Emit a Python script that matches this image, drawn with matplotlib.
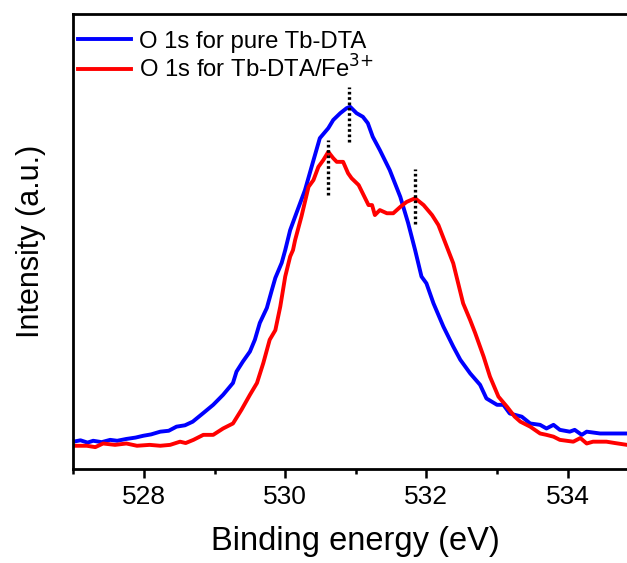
import matplotlib
matplotlib.use("Agg")
import matplotlib.pyplot as plt
from matplotlib.ticker import MultipleLocator

plt.rcParams['font.family'] = ['Liberation Sans', 'DejaVu Sans']

# Binding energy (eV) and intensity (a.u.)
energy_pure = [527.00, 527.10, 527.20, 527.28, 527.40, 527.52, 527.62, 527.75, 527.88, 527.99,
               528.10, 528.23, 528.35, 528.46, 528.58, 528.69, 528.84, 528.98,
               529.12, 529.26, 529.31, 529.40, 529.50, 529.57, 529.64, 529.74, 529.81, 529.86,
               529.95, 530.00, 530.07, 530.16, 530.28, 530.39, 530.49, 530.61, 530.68, 530.78,
               530.87, 530.92, 531.01, 531.10, 531.17, 531.24, 531.34, 531.48, 531.63, 531.74,
               531.84, 531.93, 532.00, 532.10, 532.24, 532.38, 532.48, 532.62, 532.76, 532.85,
               533.00, 533.09, 533.18, 533.35, 533.47, 533.61, 533.70, 533.80, 533.89, 534.03,
               534.10, 534.20, 534.27, 534.46, 534.84, 535.00]
intensity_pure = [6.0, 6.3, 5.8, 6.2, 5.9, 6.4, 6.2, 6.6, 6.9, 7.3,
                  7.6, 8.2, 8.4, 9.3, 9.6, 10.4, 12.3, 14.1,
                  16.3, 18.9, 21.4, 23.6, 25.8, 28.4, 32.1, 35.4, 39.3, 42.0,
                  45.3, 48.1, 52.5, 56.3, 61.3, 67.3, 72.7, 74.9, 76.7, 78.2,
                  79.3, 79.6, 78.2, 77.4, 76.0, 73.0, 70.1, 65.7, 59.8, 54.1,
                  48.1, 42.3, 40.8, 36.4, 31.3, 26.9, 24.0, 21.0, 18.5, 15.5,
                  14.1, 14.1, 12.2, 11.5, 10.0, 9.7, 8.9, 9.7, 8.6, 8.2,
                  8.6, 7.5, 8.2, 7.8, 7.8, 7.8]

energy_fe = [527.00, 527.19, 527.31, 527.42, 527.59, 527.75, 527.90, 528.08, 528.23, 528.37,
             528.51, 528.59, 528.70, 528.84, 528.98, 529.12, 529.26, 529.38, 529.50, 529.60,
             529.69, 529.78, 529.86, 529.93, 530.00, 530.07, 530.11, 530.14, 530.23, 530.33,
             530.40, 530.47, 530.54, 530.61, 530.68, 530.73, 530.82, 530.89, 530.94, 531.04,
             531.11, 531.18, 531.23, 531.27, 531.34, 531.44, 531.53, 531.63, 531.72, 531.84,
             531.96, 532.08, 532.17, 532.26, 532.38, 532.52, 532.62, 532.69, 532.81, 532.90,
             533.02, 533.14, 533.25, 533.33, 533.47, 533.61, 533.70, 533.80, 533.89, 534.08,
             534.18, 534.27, 534.36, 534.55, 534.67, 534.84, 535.00]
intensity_fe = [5.1, 5.1, 4.8, 5.6, 5.3, 5.6, 5.1, 5.3, 5.1, 5.3,
                6.0, 5.7, 6.4, 7.5, 7.5, 8.9, 10.0, 13.0, 16.3, 18.9,
                23.3, 28.4, 30.5, 35.7, 42.3, 46.7, 48.1, 50.3, 55.5, 62.0,
                63.5, 66.4, 67.9, 69.7, 68.3, 67.5, 67.5, 65.0, 63.9, 62.4,
                60.2, 58.0, 58.0, 55.8, 56.9, 56.2, 56.2, 57.6, 58.7, 59.5,
                58.0, 55.8, 53.6, 50.0, 45.2, 36.4, 32.7, 29.9, 24.7, 20.3,
                15.9, 13.7, 11.5, 10.4, 9.3, 7.8, 7.5, 7.1, 6.4, 6.0,
                6.8, 5.6, 6.0, 6.0, 5.7, 5.3, 5.3]

# Peak markers (dotted vertical lines): position, bottom, top
peak_pos = [530.90, 530.60, 531.84]
peak_low = [71.9, 60.2, 53.8]
peak_high = [84.0, 72.3, 65.9]

labels = ["O 1s for pure Tb-DTA", "O 1s for Tb-DTA/Fe$^{3{+}}$"]
colors = ["#0000FF", "#FF0000"]
xticks = [528, 530, 532, 534]

fig = plt.figure(figsize=(6.27, 5.63), dpi=100)
ax = fig.add_axes([0.1171, 0.1670, 0.9008, 0.8082])

ax.plot(energy_pure, intensity_pure, color=colors[0], lw=2.8, label=labels[0])
ax.plot(energy_fe, intensity_fe, color=colors[1], lw=2.8, label=labels[1])
for p, lo, hi in zip(peak_pos, peak_low, peak_high):
    ax.vlines(p, lo, hi, colors='black', lw=2.4, linestyles=(0, (0.8, 0.8)))

ax.set_xlim(527, 535)
ax.set_ylim(0, 100)
ax.set_xticks(xticks)
ax.xaxis.set_minor_locator(MultipleLocator(1))
ax.set_yticks([])
for s in ax.spines.values():
    s.set_linewidth(2.0)
ax.tick_params(axis='x', which='major', direction='out', length=6.5, width=1.8,
               labelsize=19, pad=5)
ax.tick_params(axis='x', which='minor', direction='out', length=3.6, width=1.8)

ax.set_xlabel("Binding energy (eV)", fontsize=23.5, labelpad=12)
ax.set_ylabel("Intensity (a.u.)", fontsize=22, labelpad=20)

ax.legend(loc='upper left', bbox_to_anchor=(-0.022, 1.0), frameon=False, fontsize=17.2,
          handlelength=2.25, handletextpad=0.3, labelspacing=0.1, borderaxespad=0.3)

fig.savefig("out.png", dpi=100)
